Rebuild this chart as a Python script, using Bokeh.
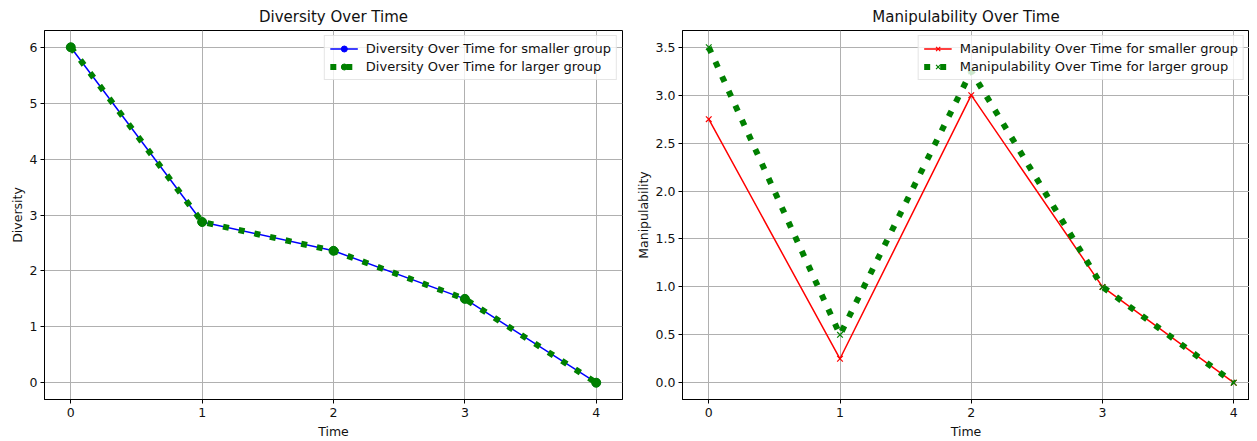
from bokeh.plotting import figure
from bokeh.layouts import row
from bokeh.models import Range1d, FixedTicker, PrintfTickFormatter, Legend, LegendItem
from bokeh.embed import file_html
from bokeh.resources import INLINE

time = [0, 1, 2, 3, 4]
div_small = [6.0, 2.875, 2.36, 1.5, 0.0]
div_large = [6.0, 2.875, 2.36, 1.5, 0.0]
manip_small = [2.75, 0.25, 3.0, 1.0, 0.0]
manip_large = [3.5, 0.5, 3.25, 1.0, 0.0]

div_ticks = [0, 1, 2, 3, 4, 5, 6]
manip_ticks = [0.0, 0.5, 1.0, 1.5, 2.0, 2.5, 3.0, 3.5]
time_ticks = [0, 1, 2, 3, 4]

FONT = "DejaVu Sans"
TXT = "#111111"


def style(p, ylabel, yticks):
    p.title.align = "center"
    p.title.text_font = FONT
    p.title.text_font_size = "15px"
    p.title.text_font_style = "normal"
    p.title.text_color = TXT
    p.outline_line_color = "black"
    p.outline_line_width = 1
    p.background_fill_color = "white"
    p.border_fill_color = "white"
    for ax in (p.xaxis[0], p.yaxis[0]):
        ax.axis_line_color = "black"
        ax.major_tick_line_color = "black"
        ax.major_tick_in = 0
        ax.major_tick_out = 4
        ax.minor_tick_line_color = None
        ax.major_label_text_font = FONT
        ax.major_label_text_font_size = "12.5px"
        ax.major_label_text_color = TXT
        ax.axis_label_text_font = FONT
        ax.axis_label_text_font_size = "12.5px"
        ax.axis_label_text_font_style = "normal"
        ax.axis_label_text_color = TXT
        ax.major_label_standoff = 3
        ax.axis_label_standoff = 2
    p.xaxis[0].major_label_standoff = 4
    p.xaxis[0].axis_label_standoff = 4
    p.xaxis[0].ticker = FixedTicker(ticks=time_ticks)
    p.yaxis[0].ticker = FixedTicker(ticks=yticks)
    p.xaxis[0].axis_label = "Time"
    p.yaxis[0].axis_label = ylabel
    p.xgrid.grid_line_color = "#b0b0b0"
    p.ygrid.grid_line_color = "#b0b0b0"
    p.xgrid.grid_line_width = 1
    p.ygrid.grid_line_width = 1
    p.xgrid.ticker = FixedTicker(ticks=time_ticks)
    p.ygrid.ticker = FixedTicker(ticks=yticks)


def add_legend(p, items):
    leg = Legend(items=items, location="top_right")
    leg.label_text_font = FONT
    leg.label_text_font_size = "13px"
    leg.label_text_color = TXT
    leg.border_line_color = "#cccccc"
    leg.border_line_width = 1
    leg.background_fill_alpha = 0.8
    leg.glyph_width = 28
    leg.glyph_height = 15
    leg.spacing = 3
    leg.padding = 5
    leg.margin = 5
    leg.label_standoff = 8
    leg.label_height = 15
    p.add_layout(leg)


# Left chart
p1 = figure(width=632, height=441, title="Diversity Over Time",
            output_backend="svg", toolbar_location=None,
            x_range=Range1d(-0.2, 4.2), y_range=Range1d(-0.3, 6.3),
            min_border_left=44, min_border_right=10, min_border_top=22, min_border_bottom=41)
style(p1, "Diversity", div_ticks)
l1 = p1.line(time, div_small, line_color="blue", line_width=1.5)
s1 = p1.scatter(time, div_small, marker="circle", size=8, fill_color="blue", line_color="blue")
l2 = p1.line(time, div_large, line_color="green", line_width=6, line_dash="6 10")
s2 = p1.scatter(time, div_large, marker="circle", size=9, fill_color="green", line_color="green")
add_legend(p1, [
    LegendItem(label="Diversity Over Time for smaller group", renderers=[l1, s1]),
    LegendItem(label="Diversity Over Time for larger group", renderers=[l2, s2]),
])

# Right chart
p2 = figure(width=617, height=441, title="Manipulability Over Time",
            output_backend="svg", toolbar_location=None,
            x_range=Range1d(-0.2, 4.12), y_range=Range1d(-0.175, 3.675),
            min_border_left=43, min_border_right=0, min_border_top=22, min_border_bottom=41)
style(p2, "Manipulability", manip_ticks)
p2.yaxis[0].formatter = PrintfTickFormatter(format="%.1f")
m1 = p2.line(time, manip_small, line_color="red", line_width=1.5)
ms1 = p2.scatter(time, manip_small, marker="x", size=8, line_color="red", line_width=1.2)
m2 = p2.line(time, manip_large, line_color="green", line_width=6, line_dash="6 10")
ms2 = p2.scatter(time, manip_large, marker="x", size=8, line_color="green", line_width=1.2)
add_legend(p2, [
    LegendItem(label="Manipulability Over Time for smaller group", renderers=[m1, ms1]),
    LegendItem(label="Manipulability Over Time for larger group", renderers=[m2, ms2]),
])

layout = row(p1, p2)
open("out.html", "w").write(file_html(layout, INLINE))
